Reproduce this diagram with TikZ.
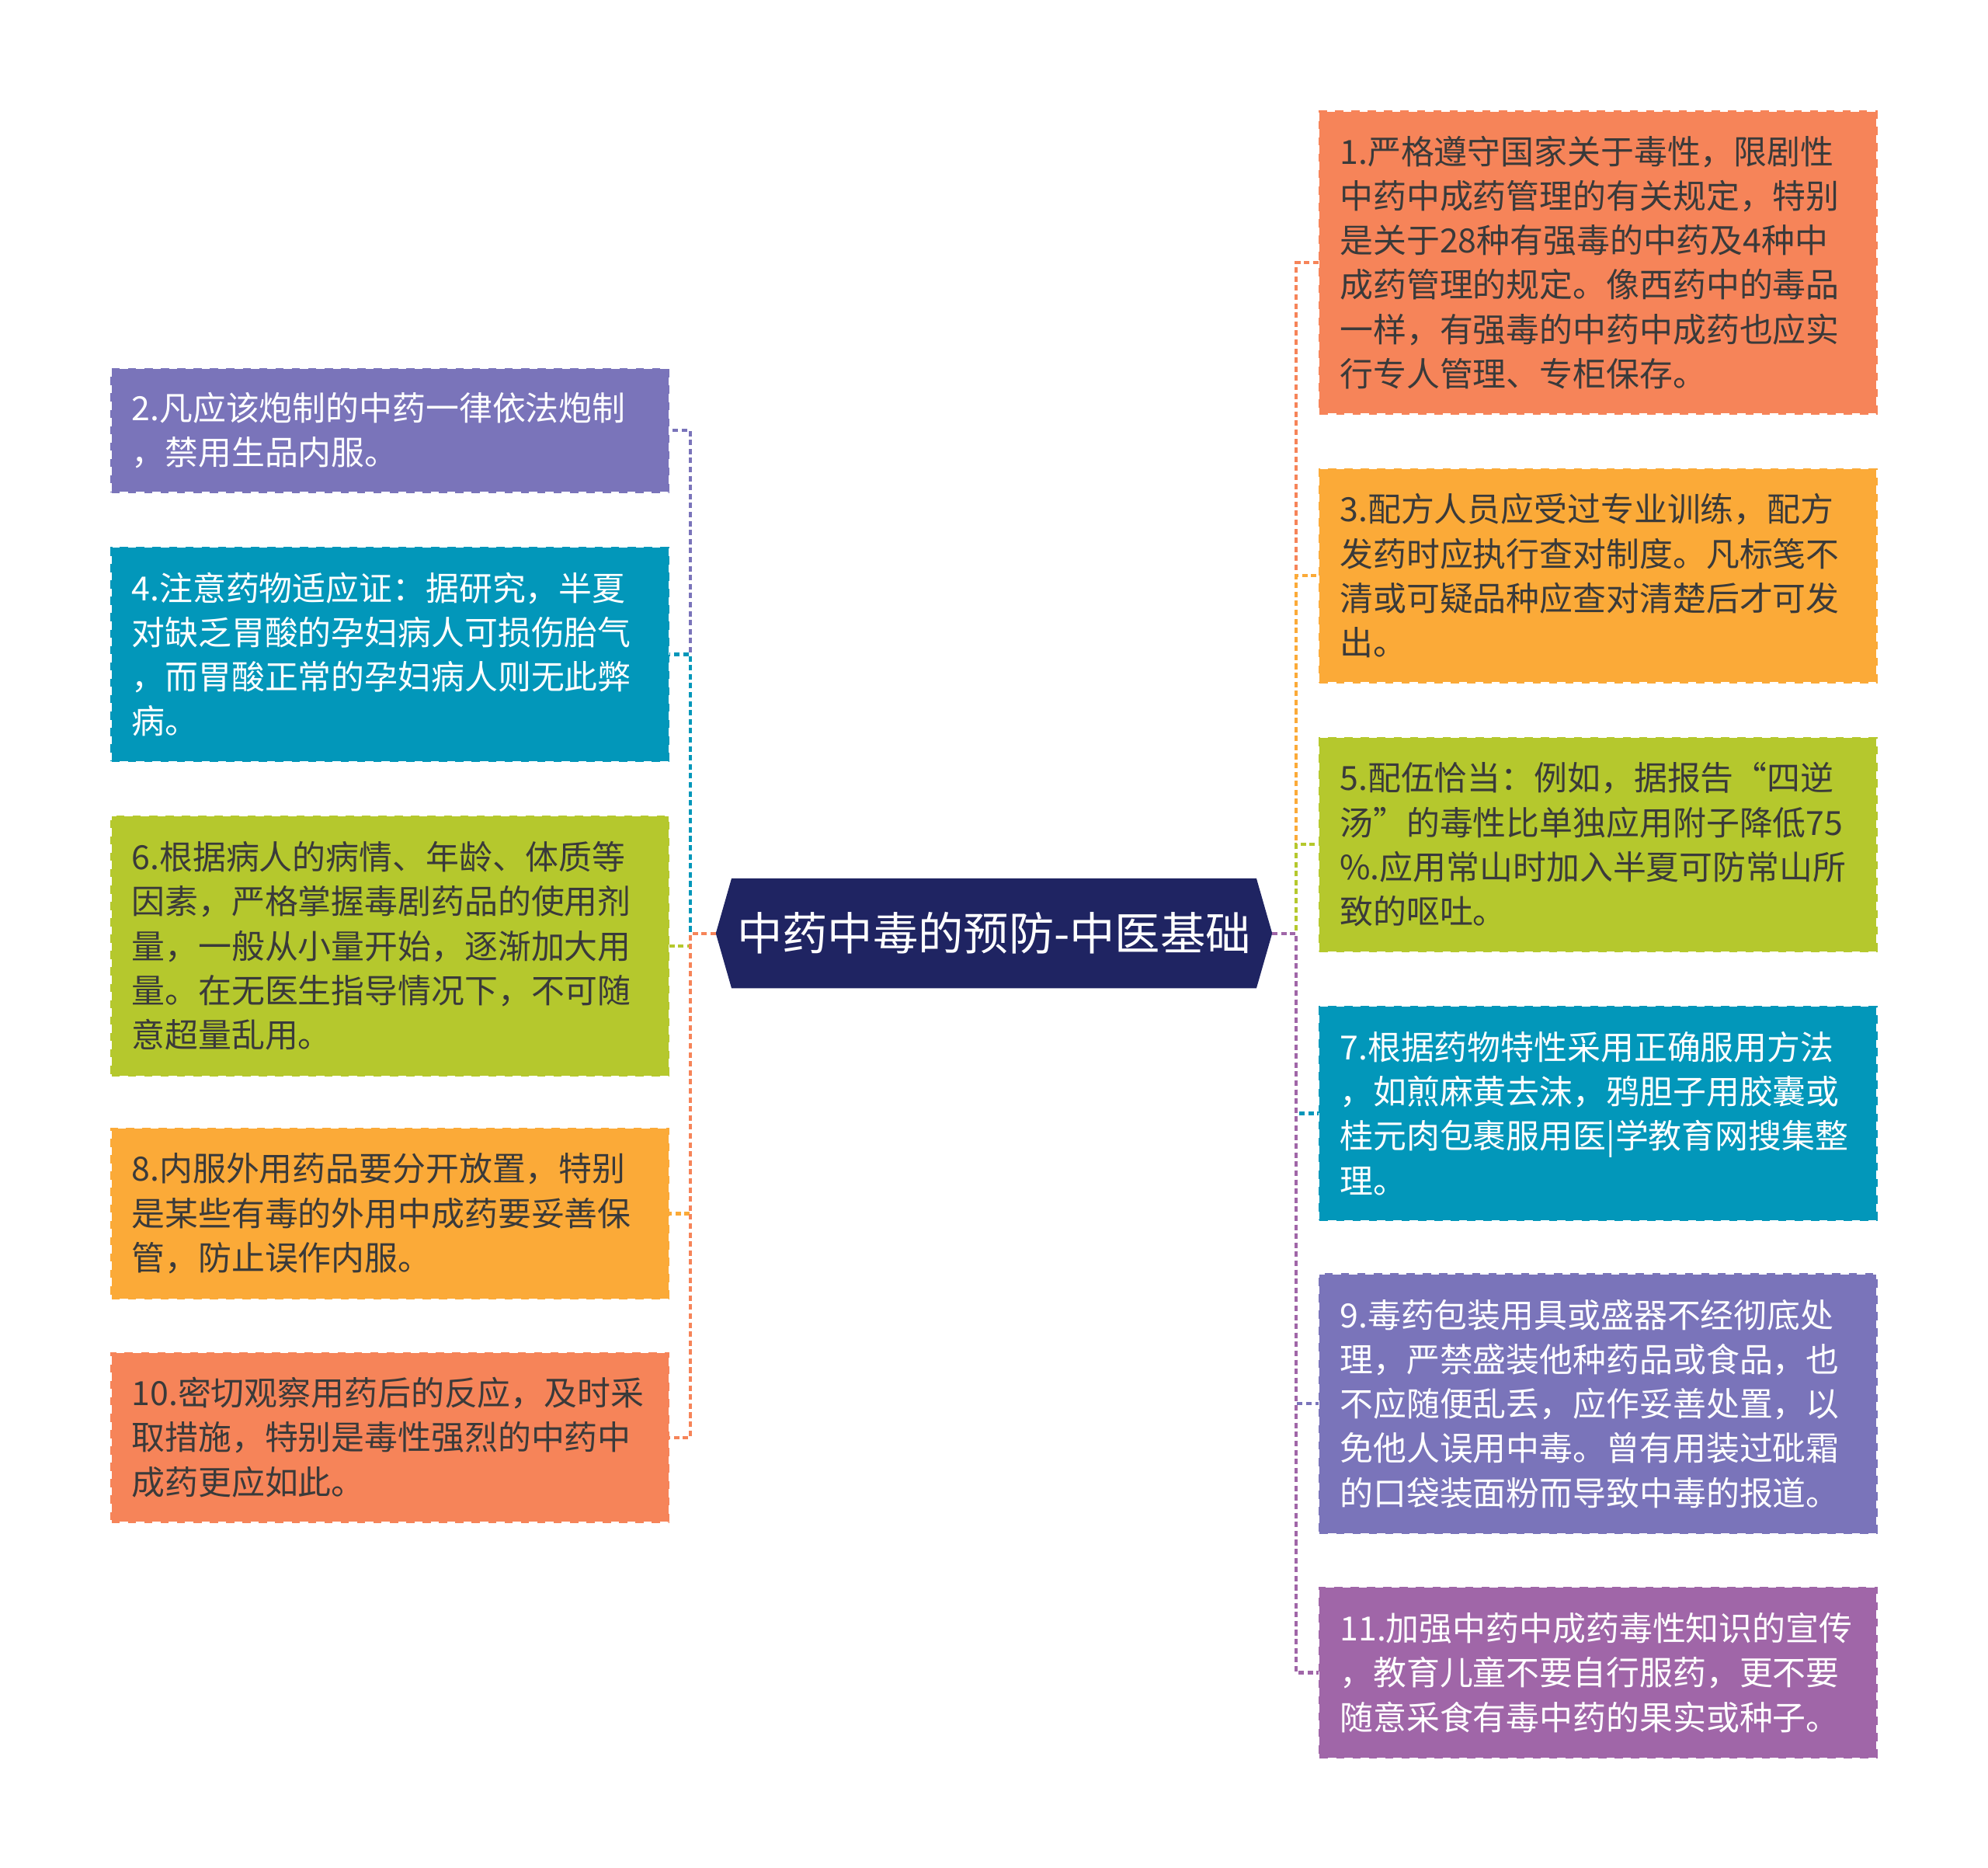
\documentclass[tikz,border=0pt]{standalone}
\usepackage{fontspec}
\setmainfont{Noto Sans CJK SC}
\usetikzlibrary{shapes.symbols,calc}
\definecolor{leafpurple}{RGB}{122,116,186}
\definecolor{leafteal}{RGB}{2,151,186}
\definecolor{leafgreen}{RGB}{181,200,45}
\definecolor{leafamber}{RGB}{251,170,56}
\definecolor{leaforange}{RGB}{246,132,89}
\definecolor{leafplum}{RGB}{160,102,168}
\definecolor{rootnavy}{RGB}{31,36,98}
\definecolor{darktext}{RGB}{58,58,58}

\begin{document}
\begin{tikzpicture}[
    x=0.01633cm, y=-0.01633cm,
    leaf/.style={draw=#1, fill=#1, dashed, line width=0.8pt, rectangle, minimum width=7.17cm, text width=6.65cm, inner xsep=0.26cm, inner ysep=0pt, align=left, text=darktext, font=\fontsize{12.2}{16.3}\selectfont},
    link/.style={draw=#1, line width=1.2pt, dash pattern=on 2pt off 1.3pt},
]
\useasboundingbox (0,0) rectangle (1568,1473);

% Root
\node[signal, signal to=east and west, signal pointer angle=148, fill=rootnavy, draw=rootnavy, minimum width=7.15cm, minimum height=1.40cm, inner sep=0pt, text=white, font=\fontsize{16.6}{18}\selectfont] (root) at (784,736) {中药中毒的预防-中医基础};

% Left branches
\node[leaf=leafpurple, text=white, minimum height=1.584cm] (b2) at (307.5,339.5) {2.凡应该炮制的中药一律依法炮制\\，禁用生品内服。};
\node[leaf=leafteal, text=white, minimum height=2.743cm] (b4) at (307.5,516) {4.注意药物适应证：据研究，半夏\\对缺乏胃酸的孕妇病人可损伤胎气\\，而胃酸正常的孕妇病人则无此弊\\病。};
\node[leaf=leafgreen, minimum height=3.331cm] (b6) at (307.5,746) {6.根据病人的病情、年龄、体质等\\因素，严格掌握毒剧药品的使用剂\\量，一般从小量开始，逐渐加大用\\量。在无医生指导情况下，不可随\\意超量乱用。};
\node[leaf=leafamber, minimum height=2.188cm] (b8) at (307.5,957) {8.内服外用药品要分开放置，特别\\是某些有毒的外用中成药要妥善保\\管，防止误作内服。};
\node[leaf=leaforange, minimum height=2.172cm] (b10) at (307.5,1133.5) {10.密切观察用药后的反应，及时采\\取措施，特别是毒性强烈的中药中\\成药更应如此。};

% Right branches
\node[leaf=leaforange, minimum height=3.886cm] (b1) at (1260.5,207) {1.严格遵守国家关于毒性，限剧性\\中药中成药管理的有关规定，特别\\是关于28种有强毒的中药及4种中\\成药管理的规定。像西药中的毒品\\一样，有强毒的中药中成药也应实\\行专人管理、专柜保存。};
\node[leaf=leafamber, minimum height=2.743cm] (b3) at (1260.5,454) {3.配方人员应受过专业训练，配方\\发药时应执行查对制度。凡标笺不\\清或可疑品种应查对清楚后才可发\\出。};
\node[leaf=leafgreen, minimum height=2.743cm] (b5) at (1260.5,666) {5.配伍恰当：例如，据报告“四逆\\汤”的毒性比单独应用附子降低75\\\%.应用常山时加入半夏可防常山所\\致的呕吐。};
\node[leaf=leafteal, text=white, minimum height=2.743cm] (b7) at (1260.5,878) {7.根据药物特性采用正确服用方法\\，如煎麻黄去沫，鸦胆子用胶囊或\\桂元肉包裹服用医|学教育网搜集整\\理。};
\node[leaf=leafpurple, text=white, minimum height=3.331cm] (b9) at (1260.5,1107) {9.毒药包装用具或盛器不经彻底处\\理，严禁盛装他种药品或食品，也\\不应随便乱丢，应作妥善处置，以\\免他人误用中毒。曾有用装过砒霜\\的口袋装面粉而导致中毒的报道。};
\node[leaf=leafplum, text=white, minimum height=2.188cm] (b11) at (1260.5,1319) {11.加强中药中成药毒性知识的宣传\\，教育儿童不要自行服药，更不要\\随意采食有毒中药的果实或种子。};

% Connections to the left
\foreach \b/\c in {b2/leafpurple, b4/leafteal, b6/leafgreen, b8/leafamber, b10/leaforange}
    \draw[link=\c] (root.west) -- ($(root.west)+(-20,0)$) |- (\b.east);

% Connections to the right
\foreach \b/\c in {b1/leaforange, b3/leafamber, b5/leafgreen, b7/leafteal, b9/leafpurple, b11/leafplum}
    \draw[link=\c] (root.east) -- ($(root.east)+(19,0)$) |- (\b.west);

\end{tikzpicture}
\end{document}
